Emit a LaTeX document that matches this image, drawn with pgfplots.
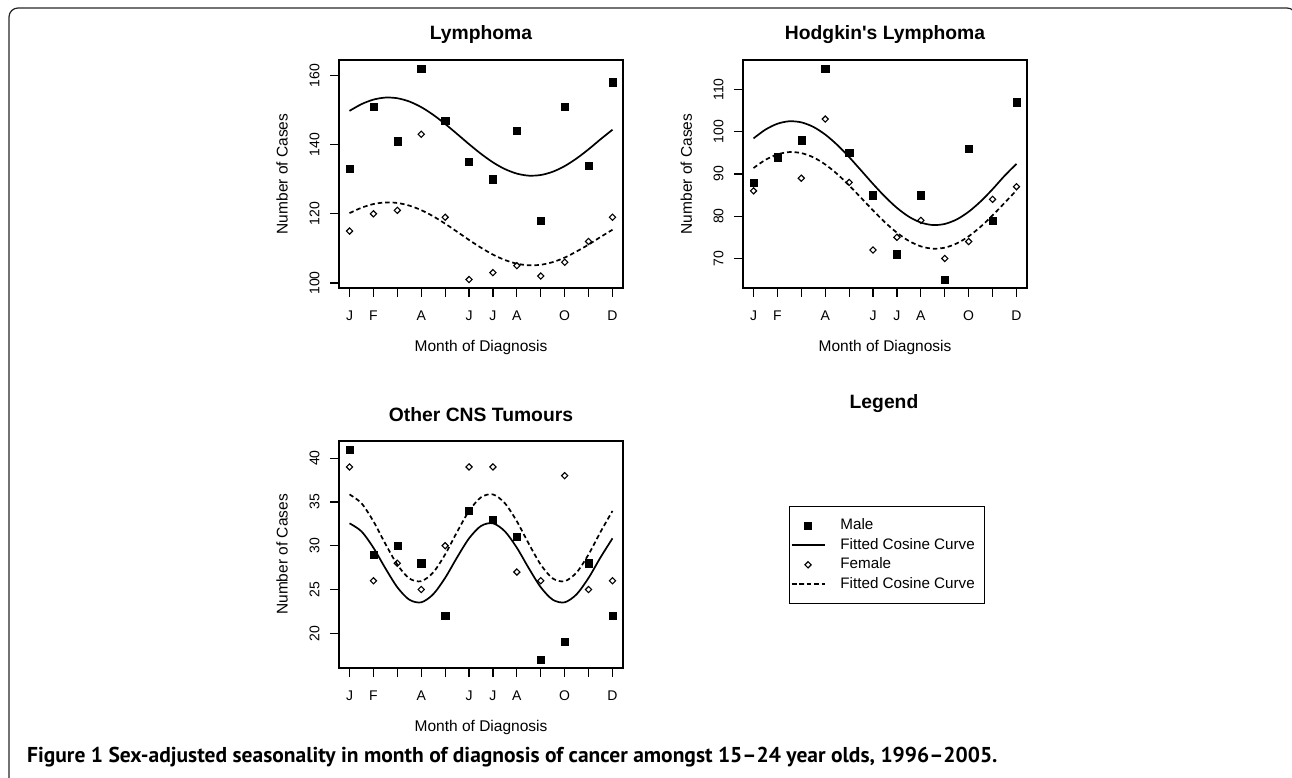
\documentclass[border=0pt]{standalone}
\usepackage{pgfplots}
\pgfplotsset{compat=1.18}
\usepackage{fontspec}
\setmainfont{Liberation Sans}
\newfontfamily\capfont{PT Sans}
\begin{document}
\begin{tikzpicture}
\useasboundingbox (0bp,0bp) rectangle (1292bp,778bp);
\draw[line width=1.2bp, rounded corners=9bp, color=black!85] (9bp,-30bp) -- (9bp,770bp) -- (1296bp,770bp) -- (1296bp,-30bp);
\pgfplotsset{
 panel/.style={
  scale only axis, width=284bp, height=228bp,
  xmin=0.56, xmax=12.44,
  xtick={1,...,12}, xticklabels={J,F,,A,,J,J,A,,O,,D},
  tick align=outside, xtick pos=bottom, ytick pos=left,
  major tick length=9bp,
  every tick/.style={black, line width=1.2bp},
  axis line style={line width=1.2bp},
  tick label style={font=\fontsize{14bp}{16bp}\selectfont},
  yticklabel style={rotate=90, anchor=south},
  xticklabel shift=10bp, yticklabel shift=7bp,
  /pgf/number format/assume math mode=true,
  label style={font=\fontsize{15.5bp}{18bp}\selectfont},
  title style={font=\bfseries\fontsize{19.3bp}{23bp}\selectfont, at={(axis description cs:0.5,1.085)}, anchor=center, yshift=0bp},
  xlabel style={at={(axis description cs:0.5,-0.263)}, anchor=center},
  ylabel style={at={(axis description cs:-0.2,0.5)}, anchor=center},
  xlabel={Month of Diagnosis}, ylabel={Number of Cases},
  legend image code/.code={\draw[mark repeat=2,mark phase=2,##1] plot coordinates {(0bp,0bp) (16.5bp,0bp) (33bp,0bp)};},
 },
 male/.style={only marks, mark=square*, mark size=3.6bp, black},
 female/.style={only marks, mark=square, mark size=2.2bp, mark options={rotate=45, line width=1.1bp}, black},
 mcurve/.style={no marks, line width=1.7bp, smooth, black},
 fcurve/.style={no marks, line width=1.7bp, smooth, black, dash pattern=on 4.5bp off 3bp},
}
% ---------------- Lymphoma
\begin{axis}[panel, at={(339bp,718bp)}, anchor=north west,
  ymin=98.56, ymax=164.44, ytick={100,120,140,160}, title={Lymphoma}]
\addplot[male] coordinates {(1,133) (2,151) (3,141) (4,162) (5,147) (6,135) (7,130) (8,144) (9,118) (10,151) (11,134) (12,158)};
\addplot[mcurve] coordinates {(1,149.74) (1.5,151.68) (2,152.99) (2.5,153.58) (3,153.39) (3.5,152.45) (4,150.82) (4.5,148.60) (5,145.96) (5.5,143.07) (6,140.12) (6.5,137.33) (7,134.86) (7.5,132.92) (8,131.61) (8.5,131.02) (9,131.21) (9.5,132.15) (10,133.78) (10.5,136.00) (11,138.64) (11.5,141.53) (12,144.3)};
\addplot[female] coordinates {(1,115) (2,120) (3,121) (4,143) (5,119) (6,101) (7,103) (8,105) (9,102) (10,106) (11,112) (12,119)};
\addplot[fcurve] coordinates {(1,120.19) (1.5,121.75) (2,122.81) (2.5,123.28) (3,123.13) (3.5,122.37) (4,121.06) (4.5,119.28) (5,117.15) (5.5,114.82) (6,112.44) (6.5,110.20) (7,108.21) (7.5,106.65) (8,105.59) (8.5,105.12) (9,105.27) (9.5,106.03) (10,107.34) (10.5,109.12) (11,111.1) (11.5,113.3) (12,115.4)};
\end{axis}
% ---------------- Hodgkin's Lymphoma
\begin{axis}[panel, at={(743bp,718bp)}, anchor=north west,
  ymin=63, ymax=117, ytick={70,80,90,100,110}, title={Hodgkin\textquotesingle s Lymphoma}]
\addplot[male] coordinates {(1,88) (2,94) (3,98) (4,115) (5,95) (6,85) (7,71) (8,85) (9,65) (10,96) (11,79) (12,107)};
\addplot[mcurve] coordinates {(1,98.43) (1.5,100.52) (2,101.90) (2.5,102.49) (3,102.23) (3.5,101.16) (4,99.34) (4.5,96.90) (5,94.00) (5.5,90.84) (6,87.64) (6.5,84.62) (7,81.97) (7.5,79.88) (8,78.50) (8.5,77.91) (9,78.17) (9.5,79.24) (10,81.06) (10.5,83.50) (11,86.40) (11.5,89.56) (12,92.4)};
\addplot[female] coordinates {(1,86) (2,94) (3,89) (4,103) (5,88) (6,72) (7,75) (8,79) (9,70) (10,74) (11,84) (12,87)};
\addplot[fcurve] coordinates {(1,91.41) (1.5,93.36) (2,94.64) (2.5,95.19) (3,94.95) (3.5,93.95) (4,92.26) (4.5,89.99) (5,87.29) (5.5,84.35) (6,81.37) (6.5,78.55) (7,76.09) (7.5,74.14) (8,72.86) (8.5,72.31) (9,72.55) (9.5,73.55) (10,75.24) (10.5,77.51) (11,80.21) (11.5,83.15) (12,86.13)};
\end{axis}
% ---------------- Other CNS Tumours
\begin{axis}[panel, at={(339bp,337bp)}, anchor=north west, height=227bp,
  ymin=16.04, ymax=41.96, ytick={20,25,30,35,40}, title={Other CNS Tumours},
  title style={at={(axis description cs:0.5,1.088)}},
  legend style={at={(axis description cs:1.585,0.714)}, anchor=north west,
    draw=black, line width=1.2bp, inner xsep=1bp, inner ysep=12bp,
    font=\fontsize{15.2bp}{18bp}\selectfont, row sep=5bp,
    nodes={inner sep=0bp, text height=11bp, text depth=3.5bp},
    /tikz/every odd column/.append style={column sep=15bp}},
  legend cell align=left]
\addplot[male] coordinates {(1,41) (2,29) (3,30) (4,28) (5,22) (6,34) (7,33) (8,31) (9,17) (10,19) (11,28) (12,22)};
\addlegendentry{\makebox[143bp][l]{Male}}
\addplot[mcurve] coordinates {(1,32.56) (1.5,31.64) (2,29.77) (2.5,27.43) (3,25.26) (3.5,23.84) (4,23.54) (4.5,24.46) (5,26.33) (5.5,28.67) (6,30.84) (6.5,32.26) (7,32.56) (7.5,31.64) (8,29.77) (8.5,27.43) (9,25.26) (9.5,23.84) (10,23.54) (10.5,24.46) (11,26.33) (11.5,28.67) (12,30.84)};
\addlegendentry{\makebox[143bp][l]{Fitted Cosine Curve}}
\addplot[female] coordinates {(1,39) (2,26) (3,28) (4,25) (5,30) (6,39) (7,39) (8,27) (9,26) (10,38) (11,25) (12,26)};
\addlegendentry{\makebox[143bp][l]{Female}}
\addplot[fcurve] coordinates {(1,35.86) (1.5,34.85) (2,32.79) (2.5,30.22) (3,27.84) (3.5,26.27) (4,25.95) (4.5,26.95) (5,29.01) (5.5,31.58) (6,33.97) (6.5,35.53) (7,35.86) (7.5,34.85) (8,32.79) (8.5,30.22) (9,27.84) (9.5,26.27) (10,25.95) (10.5,26.95) (11,29.01) (11.5,31.58) (12,33.97)};
\addlegendentry{\makebox[143bp][l]{Fitted Cosine Curve}}
\end{axis}
\node[font=\bfseries\fontsize{19.3bp}{23bp}\selectfont, anchor=center] at (884bp,374bp) {Legend};
\node[anchor=west, inner sep=0bp] at (27bp,21bp) {\capfont\bfseries\fontsize{21.5bp}{25bp}\selectfont Figure 1 Sex-adjusted seasonality in month of diagnosis of cancer amongst 15–24 year olds, 1996–2005.};
\end{tikzpicture}
\end{document}
